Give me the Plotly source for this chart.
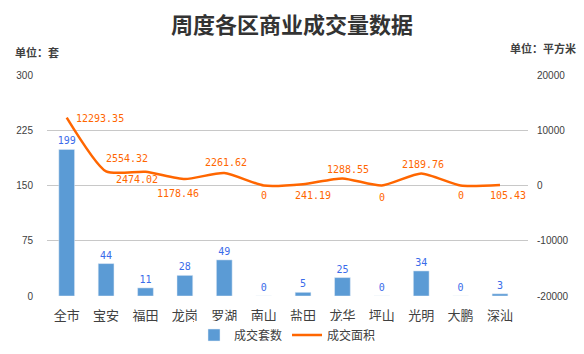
import plotly.graph_objects as go

categories = ["全市", "宝安", "福田", "龙岗", "罗湖", "南山", "盐田", "龙华", "坪山", "光明", "大鹏", "深汕"]
units = [199, 44, 11, 28, 49, 0, 5, 25, 0, 34, 0, 3]
area = [12293.35, 2554.32, 2474.02, 1178.46, 2261.62, 0, 241.19, 1288.55, 0, 2189.76, 0, 105.43]
area_text = ["12293.35", "2554.32", "2474.02", "1178.46", "2261.62", "0", "241.19", "1288.55", "0", "2189.76", "0", "105.43"]
# label offsets (px) relative to the point, as placed in the reference
label_dx = [33, 21, -8, -7, 2, 0, 10, 6, 0, 2, 0, 8]
label_dy = [-1, 13, -8, -15, 11, -10, -11, 9, -12, 9, -10, -11]
left_ticks = [0, 75, 150, 225, 300]
right_ticks = [-20000, -10000, 0, 10000, 20000]

FONT = "Noto Sans CJK SC"
W, H = 584, 354
ML, MR, MT, MB = 47, 56, 75, 58
PW, PH = W - ML - MR, H - MT - MB

def px_x(x):
    return (x - ML) / PW

def px_y(y):
    return (H - MB - y) / PH

fig = go.Figure()
fig.add_trace(go.Bar(
    x=categories, y=units, name="成交套数", marker_color="#5B9BD5", width=0.4,
    text=[str(v) for v in units], textposition="outside", cliponaxis=False, constraintext="none",
    textfont=dict(color="#3A6BEA", size=10, family="DejaVu Sans Mono"),
    yaxis="y",
))
fig.add_trace(go.Scatter(
    x=categories, y=area, name="成交面积", mode="lines",
    line=dict(color="#FF6600", width=2.5, shape="spline", smoothing=0.6),
    yaxis="y2",
))

annotations = [
    dict(text="<b>单位：套</b>", x=px_x(13), y=px_y(52), xref="paper", yref="paper", showarrow=False,
         xanchor="left", yanchor="middle", font=dict(size=11, color="#404040")),
    dict(text="<b>单位：平方米</b>", x=px_x(578), y=px_y(48), xref="paper", yref="paper", showarrow=False,
         xanchor="right", yanchor="middle", font=dict(size=11, color="#404040")),
]
for c, v, t, dx, dy in zip(categories, area, area_text, label_dx, label_dy):
    annotations.append(dict(text=t, x=c, y=v, xref="x", yref="y2", showarrow=False,
                            xanchor="center", yanchor="middle", xshift=dx, yshift=dy,
                            font=dict(size=10, color="#FF6600", family="DejaVu Sans Mono")))

fig.update_layout(
    width=W, height=H,
    margin=dict(l=ML, r=MR, t=MT, b=MB, autoexpand=False),
    paper_bgcolor="white", plot_bgcolor="white",
    font=dict(family=FONT, color="#404040", size=12),
    title=dict(text="<b>周度各区商业成交量数据</b>", x=0.5, xanchor="center", y=1 - 25 / H, yanchor="middle",
               font=dict(size=22, color="#333333", family=FONT)),
    showlegend=True,
    legend=dict(orientation="h", x=0.5, xanchor="center", y=px_y(335), yanchor="middle",
                font=dict(size=12, color="#404040"), itemwidth=30),
    xaxis=dict(showgrid=False, showline=False, ticks="", tickfont=dict(size=13, color="#404040"),
               ticklabelstandoff=10),
    yaxis=dict(range=[0, 300], tickvals=left_ticks, ticktext=[str(v) for v in left_ticks],
               showgrid=True, gridcolor="#C8C8C8", gridwidth=1, zeroline=False, showline=False,
               ticks="", tickfont=dict(size=10, color="#404040", family="Liberation Sans"), ticklabelstandoff=13),
    yaxis2=dict(range=[-20000, 20000], tickvals=right_ticks, ticktext=[str(v) for v in right_ticks],
                overlaying="y", side="right", showgrid=False, zeroline=False, showline=False, ticks="",
                tickfont=dict(size=10, color="#404040", family="Liberation Sans"), ticklabelstandoff=8),
    annotations=annotations,
)

fig.write_html("out.html")
